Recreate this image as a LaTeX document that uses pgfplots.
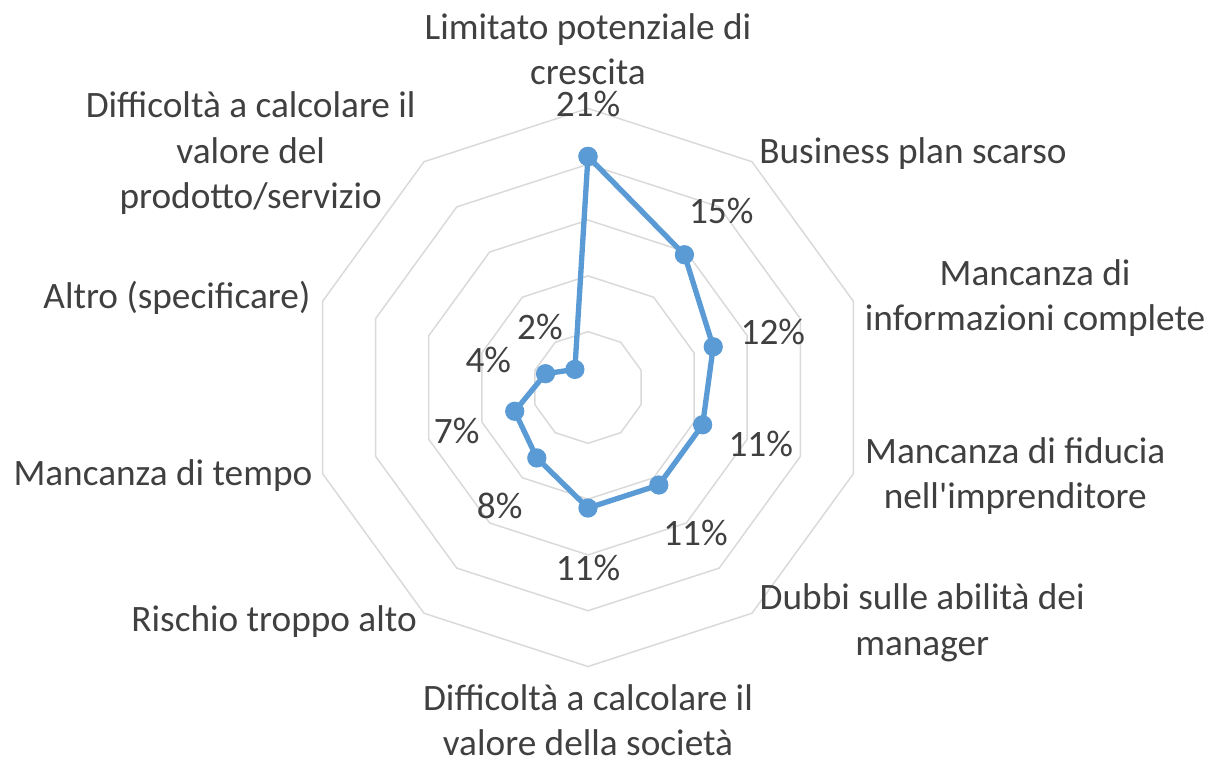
\documentclass[border=0pt]{standalone}
\usepackage{pgfplots}
\pgfplotsset{compat=1.18}
\usepgfplotslibrary{polar}
\usepackage{fontspec}
\setmainfont{Carlito}
\definecolor{lineblue}{HTML}{5B9BD5}
\definecolor{gridgray}{HTML}{D9D9D9}
\definecolor{txt}{HTML}{404040}
\tikzset{lbl/.style={font=\fontsize{14}{17.2}\selectfont, text=txt, align=center, inner sep=0pt}}
\begin{document}
\begin{tikzpicture}[x=0.0132013cm,y=0.0132013cm]
\useasboundingbox (-588,-373.5) rectangle (624,387.5);
\begin{polaraxis}[
  at={(0,0)}, anchor=origin,
  scale only axis, width=7.366cm, height=7.366cm,
  ymin=0, ymax=25, hide axis, clip=false,
  xtick=\empty, ytick=\empty,
]
% rings at 5, 10, 15, 20, 25 %
\foreach \r in {5,10,15,20,25}{
  \edef\temp{\noexpand\addplot[gridgray, line width=0.55pt, no marks] coordinates
    {(90,\r)(54,\r)(18,\r)(-18,\r)(-54,\r)(-90,\r)(-126,\r)(-162,\r)(162,\r)(126,\r)(90,\r)};}
  \temp
}
\addplot[lineblue, line width=2pt, mark=*, mark size=2.6pt,
  mark options={fill=lineblue, draw=lineblue}] coordinates {
  (90,20.7) (54,14.7) (18,11.8) (-18,10.8) (-54,10.8)
  (-90,10.8) (-126,7.8) (-162,6.9) (162,4.0) (126,2.0) (90,20.7)};
% data labels
\node[lbl] at (axis cs:90,25.4)  {21\%};
\node[lbl] at (axis cs:52.9,19.8) {15\%};
\node[lbl] at (axis cs:16.8,17.3) {12\%};
\node[lbl] at (axis cs:-18.2,16.3) {11\%};
\node[lbl] at (axis cs:-53.5,16.2) {11\%};
\node[lbl] at (axis cs:-90,16.2) {11\%};
\node[lbl] at (axis cs:233.2,13.2) {8\%};
\node[lbl] at (axis cs:198.4,12.4) {7\%};
\node[lbl] at (axis cs:164.4,9.27) {4\%};
\node[lbl] at (axis cs:128.2,6.95) {2\%};
% category labels
\node[lbl] at (axis cs:90,30.3) {Limitato potenziale di\\crescita};
\node[lbl] at (axis cs:35.8,35.9) {Business plan scarso};
\node[lbl] at (axis cs:11.3,40.85) {Mancanza di\\informazioni complete};
\node[lbl] at (axis cs:-11.7,39.1) {Mancanza di fiducia\\nell\textquotesingle imprenditore};
\node[lbl] at (axis cs:-35.1,36.6) {Dubbi sulle abilità dei\\manager};
\node[lbl] at (axis cs:-90,29.8) {Difficoltà a calcolare il\\valore della società};
\node[lbl] at (axis cs:216.75,35.1) {Rischio troppo alto};
\node[lbl] at (axis cs:191.76,38.9) {Mancanza di tempo};
\node[lbl] at (axis cs:167.7,37.7) {Altro (specificare)};
\node[lbl] at (axis cs:145.2,36.8) {Difficoltà a calcolare il\\valore del\\prodotto/servizio};
\end{polaraxis}
\end{tikzpicture}
\end{document}
